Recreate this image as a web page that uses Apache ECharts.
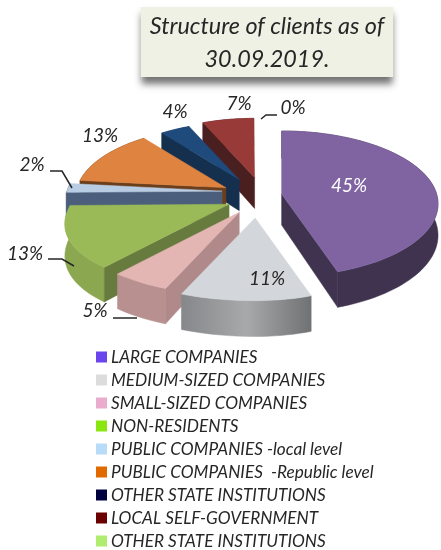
<!DOCTYPE html>
<html><head><meta charset="utf-8">
<style>html,body{margin:0;padding:0;background:#fff}#c{width:441px;height:550px}</style>
<script src="https://cdn.jsdelivr.net/npm/echarts@6/dist/echarts.min.js"></script>
</head><body><div id="c"></div>
<script>
const categories = ['LARGE COMPANIES','MEDIUM-SIZED COMPANIES','SMALL-SIZED COMPANIES','NON-RESIDENTS','PUBLIC COMPANIES -local level','PUBLIC COMPANIES  -Republic level','OTHER STATE INSTITUTIONS','LOCAL SELF-GOVERNMENT','OTHER STATE INSTITUTIONS '];
const values = [45.3, 11.2, 5, 13.9, 2, 13, 3.9, 6.5, 0.1];
const percentLabels = ['45%','11%','5%','13%','2%','13%','4%','7%','0%'];
const legendColors = ['#6a45ee','#dcdcdc','#eaaccc','#8ae610','#b8dcf8','#e06a00','#00003f','#6b0000','#b0ec70'];

// styling
const topColors  = ['#8064a2','#d3d6da','#e3b5b3','#9aba58','#b8cce4','#de8340','#1f4a7c','#983a38','#b0ec70'];
const outerColors= ['#3f3350',null,'#b89090','#8ba750','#4b5f7c','#6b3f1c','#15304f','#4a1f1f','#888'];
const innerColors= ['#3f3350','#8a8c8e','#b08a8a','#677b3f','#4b5f7c','#6b3f1c','#15304f','#4a1f1f','#888'];
const labelColors= ['#fff','#262626','#262626','#262626','#262626','#262626','#262626','#262626','#262626'];
const grayWall = {type:'linear',x:0,y:0,x2:1,y2:0,colorStops:[{offset:0,color:'#85878a'},{offset:.5,color:'#a8a9aa'},{offset:1,color:'#6f7173'}]};
// layout (pixels relative to the pie centre)
const C = [252,196], R = 155, T = 71.5, P = 0.135, H = 31, EX = 31, EY = 19, LEFT_STRETCH = 0.14;
const apexNudge = [[-1,1],[4,3],[3,0],[5,0],[1,-4],[1,1],[3,0],[9,0],[0,0]];
const radiusScale = [1,1,1,1.02,1,.96,.9,.93,1];
const labelOffset = [[97,-10],[15,83],[-157,115],[-227,58],[-220,-31],[-152,-60],[-77,-84],[-13,-92],[41,-88]];
const leaders = [null,null,[[-139,122],[-115,122]],[[-204,63],[-190,63],[-178,70]],[[-202,-25],[-190,-25],[-180,-8]],null,null,null,[[9,-77],[14,-81],[25,-81]]];
const drawOrder = [8,7,6,5,4,3,2,1,0];

const total = values.reduce((a,b)=>a+b,0);
const rad = d=>d*Math.PI/180;
function span(i){let s=0;for(let k=0;k<i;k++)s+=values[k];return [s/total*360,(s+values[i])/total*360];}
function pt(a,th,r,z){
  const s=Math.sin(rad(th)),c=Math.cos(rad(th));const Y=-c*r,d=1-P*Y;
  const stretch=s<0?1+LEFT_STRETCH*Math.max(Y,0):1;
  return [a[0]+R*stretch*s*r/d,a[1]+(T*Y+z*H)/d];
}
function area(p){let t=0;for(let i=0;i<p.length;i++){const q=p[(i+1)%p.length];t+=p[i][0]*q[1]-q[0]*p[i][1];}return t/2;}
function renderSlice(i){
  const [a0,a1]=span(i),mid=(a0+a1)/2;
  const apex=[C[0]+EX*Math.sin(rad(mid))+apexNudge[i][0],C[1]-EY*Math.cos(rad(mid))+apexNudge[i][1]];
  const n=Math.max(2,Math.ceil((a1-a0)/2)),top=[],bot=[],rs=radiusScale[i];
  for(let k=0;k<=n;k++){const th=a0+(a1-a0)*k/n;top.push(pt(apex,th,rs,0));bot.push(pt(apex,th,rs,1));}
  const c=[];
  const poly=(points,fill)=>c.push({type:'polygon',shape:{points},style:{fill,stroke:fill,lineWidth:.5}});
  if(values[i]>=0.5){
    poly(top.concat(bot.slice().reverse()), i===1?grayWall:outerColors[i]);
    const A=pt(apex,0,0,0),B=pt(apex,0,0,1);
    const w0=[A,top[0],bot[0],B], w1=[A,B,bot[n],top[n]];
    if(area(w0)<0)poly(w0,innerColors[i]);
    if(area(w1)<0)poly(w1,innerColors[i]);
    poly([A].concat(top),topColors[i]);
  }
  if(leaders[i])c.push({type:'polyline',shape:{points:leaders[i].map(p=>[C[0]+p[0],C[1]+p[1]])},style:{fill:null,stroke:'#262626',lineWidth:1.5}});
  c.push({type:'text',style:{x:C[0]+labelOffset[i][0],y:C[1]+labelOffset[i][1],text:percentLabels[i],fill:labelColors[i],font:'italic 19px Lato',align:'center',verticalAlign:'middle'},z2:50});
  return {type:'group',children:c};
}
const chart=echarts.init(document.getElementById('c'),null,{renderer:'canvas'});
chart.setOption({
  animation:false,backgroundColor:'#fff',
  title:{text:'Structure of clients as of\n30.09.2019.',left:258,top:7,textAlign:'center',padding:[3,9,1,9],backgroundColor:'#eef1e3',
    shadowBlur:7,shadowOffsetY:7,shadowColor:'rgba(0,0,0,.55)',
    textStyle:{fontFamily:'Lato',fontStyle:'italic',fontWeight:'normal',fontSize:23.4,lineHeight:33,color:'#262626',align:'center'}},
  legend:{orient:'vertical',left:96,top:348.5,padding:0,height:300,itemWidth:11,itemHeight:11,itemGap:6,selectedMode:false,icon:'rect',
    textStyle:{fontFamily:'Lato',fontStyle:'italic',fontSize:17.2,color:'#262626',lineHeight:16,padding:[0,0,0,-1]},
    data:categories.map((name,i)=>({name,icon:'rect',itemStyle:{color:legendColors[i]}}))},
  series:drawOrder.map(i=>({type:'custom',name:categories[i],coordinateSystem:'none',silent:true,clip:false,
    itemStyle:{color:legendColors[i]},data:[values[i]],renderItem:()=>renderSlice(i)}))
});
</script></body></html>
